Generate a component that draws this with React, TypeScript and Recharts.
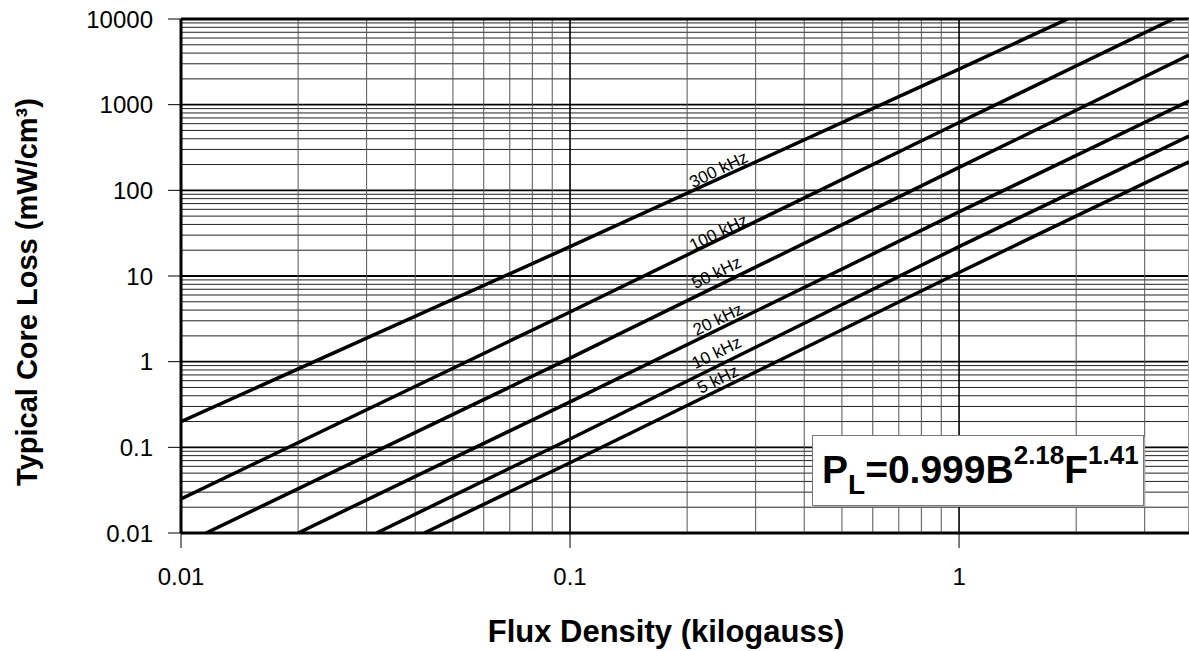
import { LineChart, Line, XAxis, YAxis, ReferenceLine, ReferenceDot } from 'recharts'

const FONT = '"Liberation Sans", Arial, Helvetica, sans-serif'

// axis ticks (log decades)
const xTicks = [0.01, 0.1, 1]
const yTicks = [0.01, 0.1, 1, 10, 100, 1000, 10000]
const xDomain = [0.01, 3.9]
const yDomain = [0.01, 10000]

// minor grid lines at 2..9 of each decade
const gridSteps = [2, 3, 4, 5, 6, 7, 8, 9]
const xGridMinor = [...[0.01, 0.1].flatMap((d) => gridSteps.map((s) => s * d)), 2, 3]
const yGridMinor = [0.01, 0.1, 1, 10, 100, 1000].flatMap((d) => gridSteps.map((s) => s * d))

// core loss curves (B in kG, P in mW/cm3)
const loss300k = [{ b: 0.01, p: 0.2 }, { b: 0.1, p: 22 }, { b: 1, p: 2600 }, { b: 1.9, p: 10000 }]
const loss100k = [{ b: 0.01, p: 0.025 }, { b: 0.1, p: 3.8 }, { b: 1, p: 620 }, { b: 3.55, p: 10000 }]
const loss50k = [{ b: 0.0116, p: 0.01 }, { b: 0.1, p: 1.1 }, { b: 1, p: 185 }, { b: 3.9, p: 3800 }]
const loss20k = [{ b: 0.02, p: 0.01 }, { b: 0.1, p: 0.34 }, { b: 1, p: 56 }, { b: 3.9, p: 1100 }]
const loss10k = [{ b: 0.0318, p: 0.01 }, { b: 0.1, p: 0.125 }, { b: 1, p: 22 }, { b: 3.9, p: 430 }]
const loss5k = [{ b: 0.0422, p: 0.01 }, { b: 0.1, p: 0.066 }, { b: 1, p: 11 }, { b: 3.9, p: 215 }]

const curves = [loss300k, loss100k, loss50k, loss20k, loss10k, loss5k]

const curveLabels = [
  { text: '300 kHz', b: 0.241, p: 174 },
  { text: '100 kHz', b: 0.241, p: 32 },
  { text: '50 kHz', b: 0.238, p: 10.9 },
  { text: '20 kHz', b: 0.24, p: 3.1 },
  { text: '10 kHz', b: 0.238, p: 1.27 },
  { text: '5 kHz', b: 0.24, p: 0.62 },
]

function CurveLabel({ cx, cy, text }: { cx?: number; cy?: number; text: string }) {
  if (cx == null || cy == null) return null
  return (
    <text
      x={cx}
      y={cy}
      textAnchor="middle"
      dominantBaseline="central"
      transform={`rotate(-26 ${cx} ${cy})`}
      fontFamily={FONT}
      fontSize={17}
      fill="#000"
    >
      {text}
    </text>
  )
}

function XTick(props: any) {
  const { x, y, payload } = props
  return (
    <text x={x} y={y} dy="0.71em" textAnchor="middle" fontFamily={FONT} fontSize={24} fill="#000">
      {String(payload.value)}
    </text>
  )
}

function YTick(props: any) {
  const { x, y, payload } = props
  return (
    <text x={x} y={y} dy="0.355em" textAnchor="end" fontFamily={FONT} fontSize={24} fill="#000">
      {String(payload.value)}
    </text>
  )
}

export default function App() {
  return (
    <div style={{ position: 'absolute', left: 0, top: 0, width: 1189, height: 651, overflow: 'hidden', background: '#fff' }}>
      <LineChart width={1189} height={651} margin={{ top: 19, right: 0, bottom: 88, left: 0 }}>
        <XAxis
          dataKey="b"
          type="number"
          scale="log"
          domain={xDomain}
          ticks={xTicks}
          allowDataOverflow
          height={30}
          tickSize={15}
          tickMargin={20}
          axisLine={{ stroke: '#000', strokeWidth: 3 }}
          tickLine={{ stroke: '#000', strokeWidth: 1 }}
          tick={<XTick />}
          interval={0}
        />
        <YAxis
          dataKey="p"
          type="number"
          scale="log"
          domain={yDomain}
          ticks={yTicks}
          allowDataOverflow
          width={181}
          tickSize={13}
          tickMargin={15}
          axisLine={{ stroke: '#000', strokeWidth: 3 }}
          tickLine={{ stroke: '#000', strokeWidth: 1 }}
          tick={<YTick />}
          interval={0}
        />
        {yGridMinor.map((v) => (
          <ReferenceLine key={`hy${v}`} y={v} stroke="#222" strokeWidth={1} ifOverflow="visible" />
        ))}
        {yTicks.slice(1, -1).map((v) => (
          <ReferenceLine key={`hd${v}`} y={v} stroke="#000" strokeWidth={1.8} ifOverflow="visible" />
        ))}
        {xGridMinor.map((v) => (
          <ReferenceLine key={`vx${v}`} x={v} stroke="#555" strokeWidth={1} ifOverflow="visible" />
        ))}
        {xTicks.slice(1).map((v) => (
          <ReferenceLine key={`vd${v}`} x={v} stroke="#000" strokeWidth={1.6} ifOverflow="visible" />
        ))}
        <ReferenceLine y={10000} stroke="#000" strokeWidth={3} ifOverflow="visible" />
        <ReferenceLine x={3.9} stroke="#999" strokeWidth={2} ifOverflow="visible" />
        {curves.map((d, i) => (
          <Line
            key={i}
            data={d}
            dataKey="p"
            type="linear"
            stroke="#000"
            strokeWidth={3.5}
            dot={false}
            activeDot={false}
            isAnimationActive={false}
          />
        ))}
        {curveLabels.map((l) => (
          <ReferenceDot
            key={l.text}
            x={l.b}
            y={l.p}
            r={0}
            ifOverflow="visible"
            shape={(props: any) => <CurveLabel cx={props.cx} cy={props.cy} text={l.text} />}
          />
        ))}
      </LineChart>
      <svg width={1189} height={651} style={{ position: 'absolute', left: 0, top: 0, pointerEvents: 'none' }}>
        <text
          transform="translate(37,292) rotate(-90)"
          textAnchor="middle"
          fontFamily={FONT}
          fontWeight="bold"
          fontSize={29}
          fill="#000"
        >
          Typical Core Loss (mW/cm³)
        </text>
        <text x={666} y={642} textAnchor="middle" fontFamily={FONT} fontWeight="bold" fontSize={31} fill="#000">
          Flux Density (kilogauss)
        </text>
        <rect x={814} y={437} width={331} height={70} fill="#aaa" />
        <rect x={812.5} y={435.5} width={331} height={70} fill="#fff" stroke="#777" strokeWidth={1} />
        <text x={822} y={483} fontFamily={FONT} fontWeight="bold" fontSize={39} fill="#000">
          P
          <tspan fontSize={28} dy={11}>L</tspan>
          <tspan fontSize={39} dy={-11}>=0.999B</tspan>
          <tspan fontSize={26} dy={-19}>2.18</tspan>
          <tspan fontSize={39} dy={19}>F</tspan>
          <tspan fontSize={26} dy={-19}>1.41</tspan>
        </text>
      </svg>
    </div>
  )
}
